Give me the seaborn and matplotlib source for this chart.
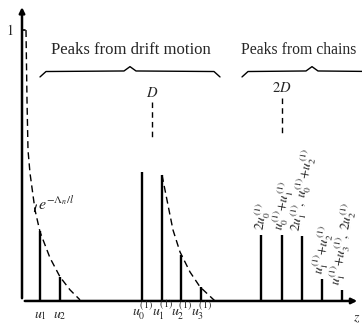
import matplotlib
matplotlib.use("Agg")
import matplotlib.pyplot as plt
import seaborn as sns
import pandas as pd
import numpy as np

# ---------------- data ----------------
single_pos = [0.9, 1.9]
single_h = [0.26, 0.09]
single_labels = [r"$u_1$", r"$u_2$"]

drift_pos = [6.0, 7.0, 7.95, 8.95]
drift_h = [0.475, 0.465, 0.17, 0.05]
drift_labels = [r"$u_0^{(1)}$", r"$u_1^{(1)}$", r"$u_2^{(1)}$", r"$u_3^{(1)}$"]

chain_pos = [11.95, 13.0, 14.0, 15.0, 16.0]
chain_h = [0.244, 0.244, 0.24, 0.08, 0.04]
chain_labels = [r"$2u_0^{(1)}$",
                r"$u_0^{(1)}\!+\!u_1^{(1)}$",
                r"$2u_1^{(1)},\ u_0^{(1)}\!+\!u_2^{(1)}$",
                r"$u_1^{(1)}\!+\!u_2^{(1)}$",
                r"$u_1^{(1)}\!+\!u_3^{(1)},\ 2u_2^{(1)}$"]

env1_x = [0.2, 0.25, 0.3, 0.4, 0.65, 0.9, 1.4, 1.9, 2.4, 2.9]
env1_y = [1.0, 0.742, 0.557, 0.472, 0.336, 0.255, 0.159, 0.089, 0.041, 0.004]

env2_x = [7.0, 7.3, 7.55, 7.9, 8.4, 8.9, 9.65]
env2_y = [0.465, 0.354, 0.262, 0.181, 0.107, 0.052, 0.0]

group_titles = ["Peaks from drift motion", "Peaks from chains"]
drift_span = [0.9, 9.9]
chain_span = [11.0, 18.0]
marker_labels = [r"$D$", r"$2D$"]
marker_x = [6.5, 13.0]

# ---------------- figure ----------------
sns.set_theme(style="white")
plt.rcParams['font.family'] = ['Liberation Serif', 'DejaVu Serif']
plt.rcParams['mathtext.fontset'] = 'stix'

fig = plt.figure(figsize=(3.62, 3.24), dpi=100)
ax = fig.add_axes([0, 0, 1, 1])
ax.set_xlim(-1.1, 17.0)
ax.set_ylim(-0.085, 1.111)
ax.axis("off")

ink = "black"
# axes with arrows
ax.annotate("", xy=(16.9, 0), xytext=(0, 0),
            arrowprops=dict(arrowstyle="-|>", color=ink, lw=1.8, mutation_scale=8))
ax.annotate("", xy=(0, 1.095), xytext=(0, 0),
            arrowprops=dict(arrowstyle="-|>", color=ink, lw=1.8, mutation_scale=8))
ax.plot([0, 0.15], [1.0, 1.0], color=ink, lw=1.2)
ax.text(-0.6, 1.0, "$1$", fontsize=10, ha="center", va="center")

# peaks
all_pos = single_pos + drift_pos + chain_pos
all_h = single_h + drift_h + chain_h
ax.vlines(all_pos, 0, all_h, color=ink, lw=1.7)

# envelopes
sns.lineplot(x=env1_x, y=env1_y, ax=ax, color=ink, lw=1.0, linestyle=(0, (5, 3)), sort=False)
sns.lineplot(x=env2_x, y=env2_y, ax=ax, color=ink, lw=1.0, linestyle=(0, (5, 3)), sort=False)
ax.text(0.8, 0.325, r"$e^{-\Lambda_n/l}$", fontsize=11.5, ha="left", va="bottom")
ax.plot([0.72, 0.62], [0.355, 0.33], color=ink, lw=0.8)

# x tick labels
for p, lab in zip(single_pos + drift_pos, single_labels + drift_labels):
    ax.text(p, -0.077, lab, fontsize=10, ha="center", va="bottom")
ax.text(16.55, -0.063, r"$z$", fontsize=10, ha="left", va="center")

# chain labels
for p, h, lab in zip(chain_pos, chain_h, chain_labels):
    ax.text(p + 0.05, h + 0.012, lab, fontsize=9.5, rotation=80, ha="center", va="bottom")

# braces and titles
def brace(x0, x1, ybase):
    xm = (x0 + x1) / 2
    xs = [x0, x0 + 0.3, xm - 0.3, xm, xm + 0.3, x1 - 0.3, x1]
    ys = [ybase - 0.022, ybase - 0.002, ybase, ybase + 0.016, ybase, ybase - 0.002, ybase - 0.022]
    ax.plot(xs, ys, color=ink, lw=1.0)
    return xm

brace(*drift_span, 0.849)
brace(*chain_span, 0.849)
ax.text(5.45, 0.926, group_titles[0], fontsize=12, ha="center", va="center")
ax.text(10.95, 0.926, group_titles[1], fontsize=11.3, ha="left", va="center")

# D and 2D markers
for mx, ml, yt in zip(marker_x, marker_labels, [0.768, 0.786]):
    ax.text(mx, yt, ml, fontsize=10.5, ha="center", va="center")
    ax.plot([mx, mx], [yt - 0.035, yt - 0.17], color=ink, lw=1.0, linestyle=(0, (4, 3)))

fig.savefig("out.png", dpi=100)
